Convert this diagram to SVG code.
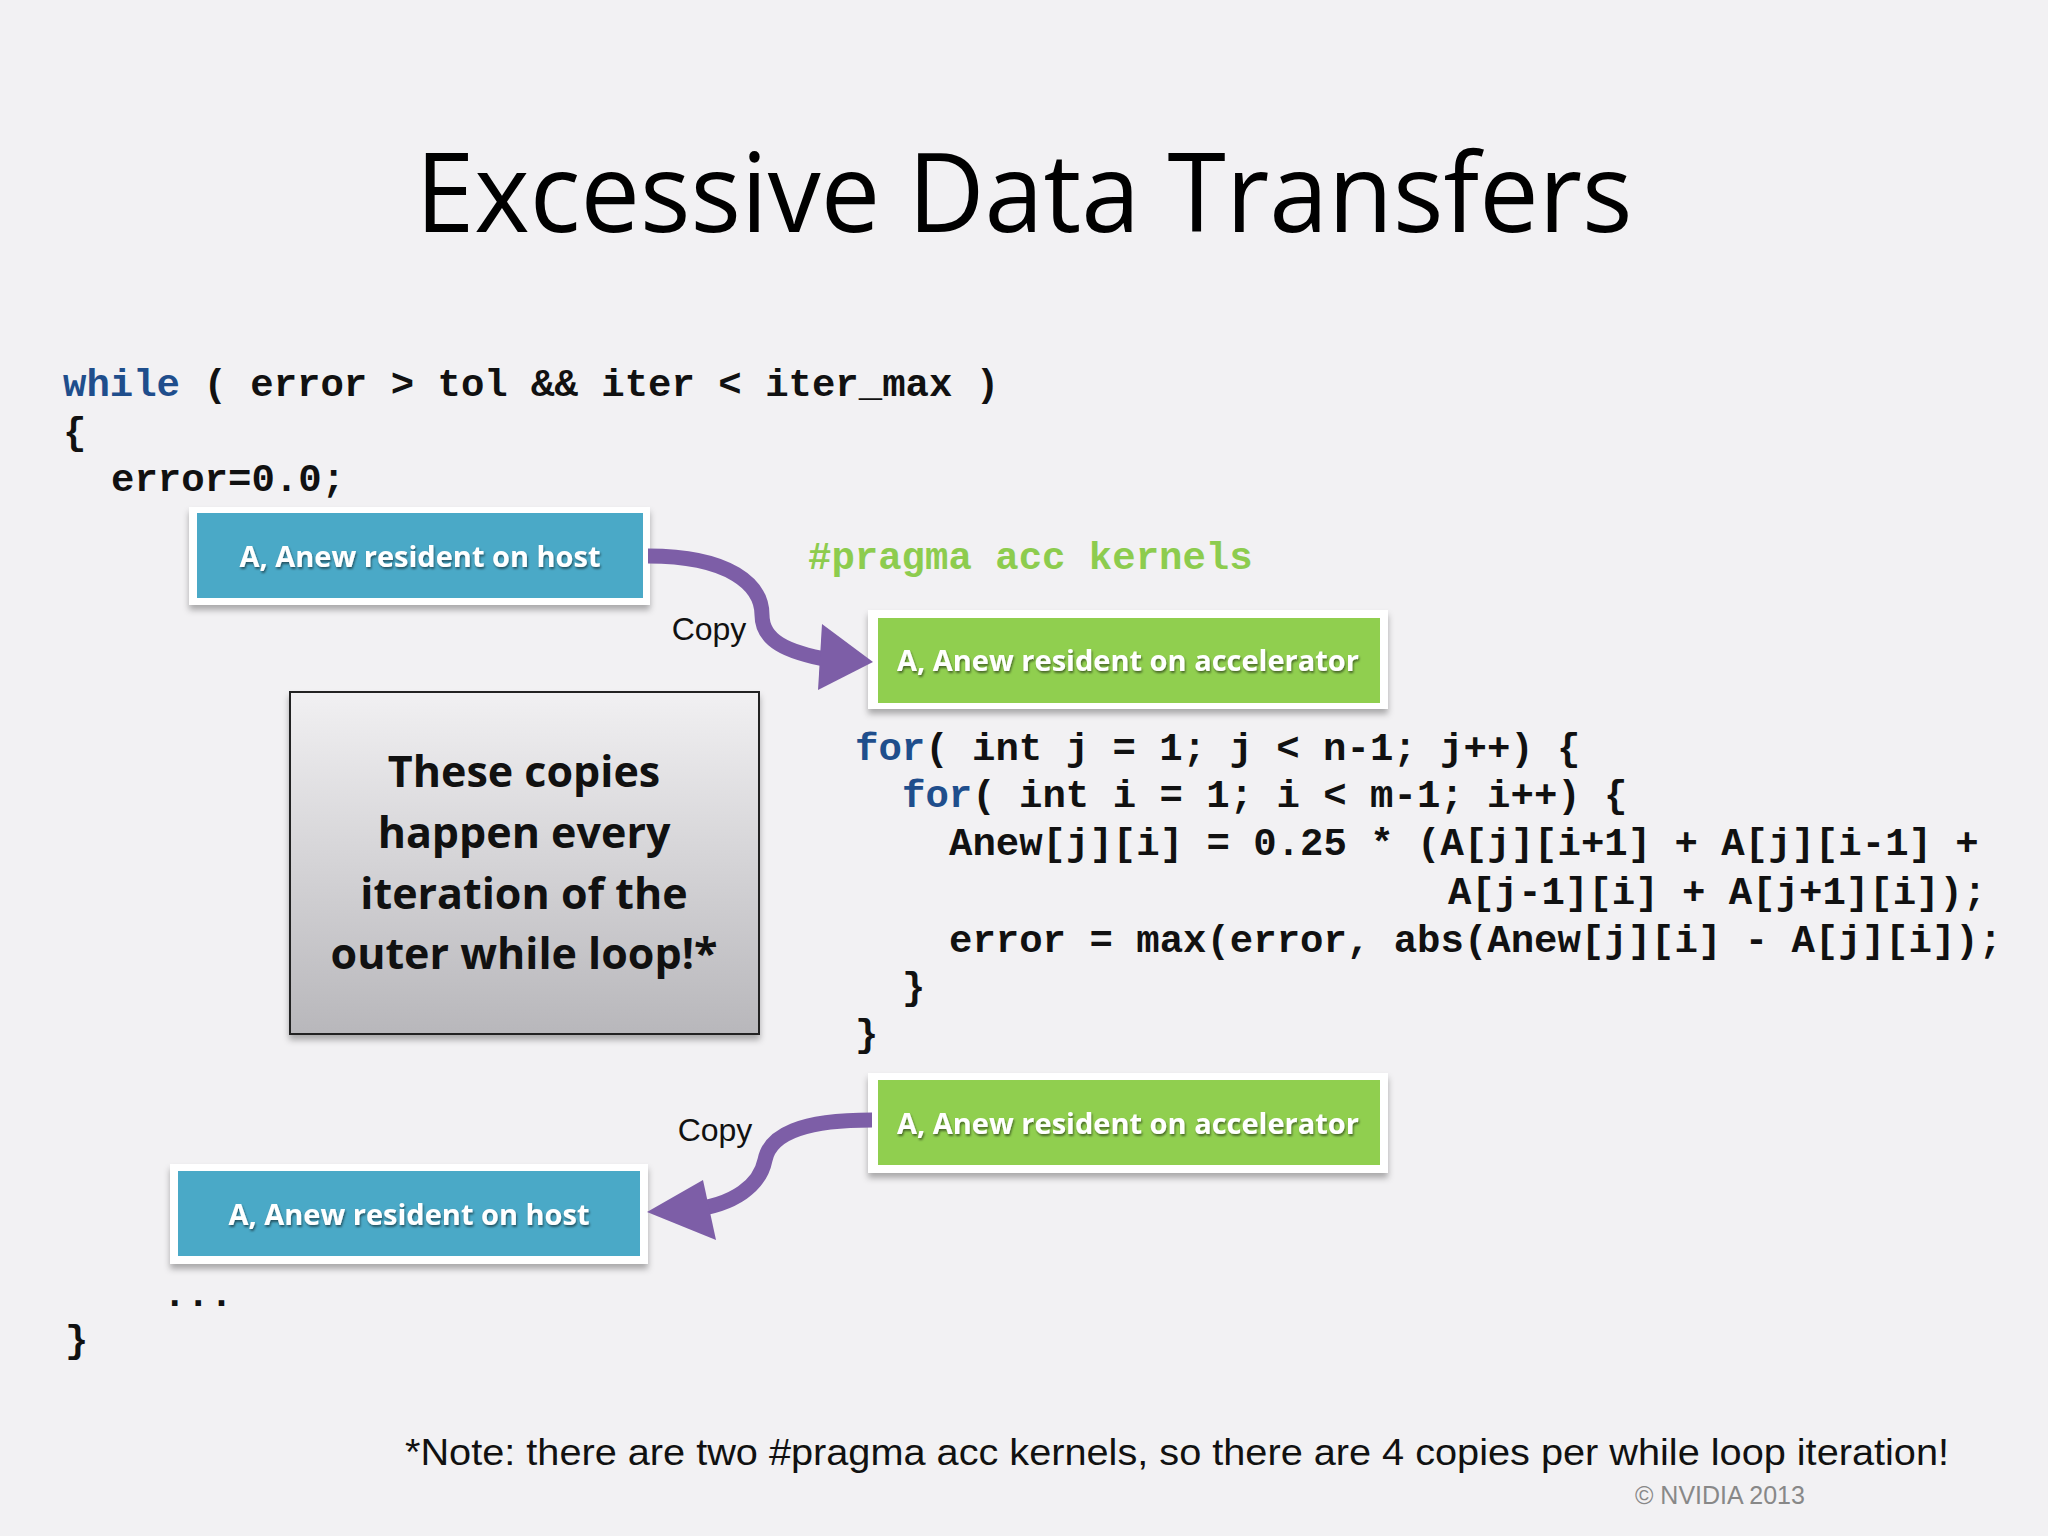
<svg xmlns="http://www.w3.org/2000/svg" width="2048" height="1536" viewBox="0 0 2048 1536">
<defs>
<linearGradient id="gray" x1="0" y1="0" x2="0" y2="1"><stop offset="0" stop-color="#f1f0f2"/><stop offset="1" stop-color="#b8b7bb"/></linearGradient>
<filter id="sh" x="-10%" y="-10%" width="120%" height="130%"><feDropShadow dx="0" dy="5" stdDeviation="3" flood-color="#000" flood-opacity="0.3"/></filter>
<filter id="ts" x="-5%" y="-20%" width="110%" height="150%"><feDropShadow dx="1" dy="2" stdDeviation="1" flood-color="#000" flood-opacity="0.5"/></filter>
</defs>
<style>
.code{font-family:"Liberation Mono",monospace;font-weight:bold;font-size:39px;fill:#111}
.kw{fill:#1f4e8c}
.lbl{font-family:"Open Sans","Noto Sans",sans-serif;font-weight:bold;font-size:29px;fill:#fff;text-anchor:middle}
.frame{fill:#fff;filter:url(#sh)}
.arr{fill:none;stroke:#7d5ea7;stroke-width:15}
.head{fill:#7d5ea7}
</style>
<rect width="2048" height="1536" fill="#f2f1f3"/>
<text x="1024" y="232" text-anchor="middle" font-family="Open Sans, Noto Sans, sans-serif" font-size="110" fill="#000" textLength="1217" lengthAdjust="spacingAndGlyphs">Excessive Data Transfers</text>
<g id="code">
<text class="code" x="63" y="396"><tspan class="kw">while</tspan> ( error &gt; tol &amp;&amp; iter &lt; iter_max )</text>
<text class="code" x="63" y="444">{</text>
<text class="code" x="111" y="491">error=0.0;</text>
<text class="code" x="808" y="569" fill="#8dcc4e" style="fill:#8dcc4e">#pragma acc kernels</text>
<text class="code" x="855" y="760"><tspan class="kw">for</tspan>( int j = 1; j &lt; n-1; j++) {</text>
<text class="code" x="902" y="807"><tspan class="kw">for</tspan>( int i = 1; i &lt; m-1; i++) {</text>
<text class="code" x="949" y="855">Anew[j][i] = 0.25 * (A[j][i+1] + A[j][i-1] +</text>
<text class="code" x="1448" y="904">A[j-1][i] + A[j+1][i]);</text>
<text class="code" x="949" y="952">error = max(error, abs(Anew[j][i] - A[j][i]);</text>
<text class="code" x="902" y="999">}</text>
<text class="code" x="855" y="1046">}</text>
<text class="code" x="163" y="1306">...</text>
<text class="code" x="65" y="1352">}</text>
</g>
<g id="host1"><rect class="frame" x="189" y="507" width="461" height="98"/><rect x="197" y="513" width="446" height="85" fill="#4aa9c7"/><text class="lbl" x="420" y="567" filter="url(#ts)">A, Anew resident on host</text></g>
<g id="acc1"><rect class="frame" x="868" y="610" width="520" height="99"/><rect x="878" y="618" width="502" height="85" fill="#90cf4f"/><text class="lbl" x="1128" y="671" filter="url(#ts)">A, Anew resident on accelerator</text></g>
<g id="acc2"><rect class="frame" x="868" y="1073" width="520" height="100"/><rect x="878" y="1080" width="502" height="85" fill="#90cf4f"/><text class="lbl" x="1128" y="1134" filter="url(#ts)">A, Anew resident on accelerator</text></g>
<g id="host2"><rect class="frame" x="170" y="1164" width="478" height="100"/><rect x="178" y="1171" width="462" height="85" fill="#4aa9c7"/><text class="lbl" x="409" y="1225" filter="url(#ts)">A, Anew resident on host</text></g>
<g id="note"><rect x="290" y="692" width="469" height="342" fill="url(#gray)" stroke="#222" stroke-width="2" filter="url(#sh)"/>
<g font-family="Open Sans, Noto Sans, sans-serif" font-weight="bold" font-size="43" fill="#111" text-anchor="middle">
<text x="524" y="787">These copies</text><text x="524" y="848">happen every</text><text x="524" y="909">iteration of the</text><text x="524" y="969">outer while loop!*</text></g></g>
<g id="connectors">
<path class="arr" d="M648 556 C730 556 762 585 762 615 C762 640 785 652 830 660"/>
<polygon class="head" points="873,662 822,624 818,690"/>
<path class="arr" d="M872 1120 C800 1120 770 1135 765 1160 C760 1185 735 1205 690 1210"/>
<polygon class="head" points="647,1212 703,1180 716,1240"/>
<text x="709" y="640" text-anchor="middle" font-family="Liberation Sans, sans-serif" font-size="32" fill="#111">Copy</text>
<text x="715" y="1141" text-anchor="middle" font-family="Liberation Sans, sans-serif" font-size="32" fill="#111">Copy</text>
</g>
<text x="405" y="1465" font-family="Liberation Sans, sans-serif" font-size="36" fill="#111" textLength="1544" lengthAdjust="spacingAndGlyphs">*Note: there are two #pragma acc kernels, so there are 4 copies per while loop iteration!</text>
<text x="1635" y="1504" font-family="Liberation Sans, sans-serif" font-size="25" fill="#888">© NVIDIA 2013</text>
</svg>
